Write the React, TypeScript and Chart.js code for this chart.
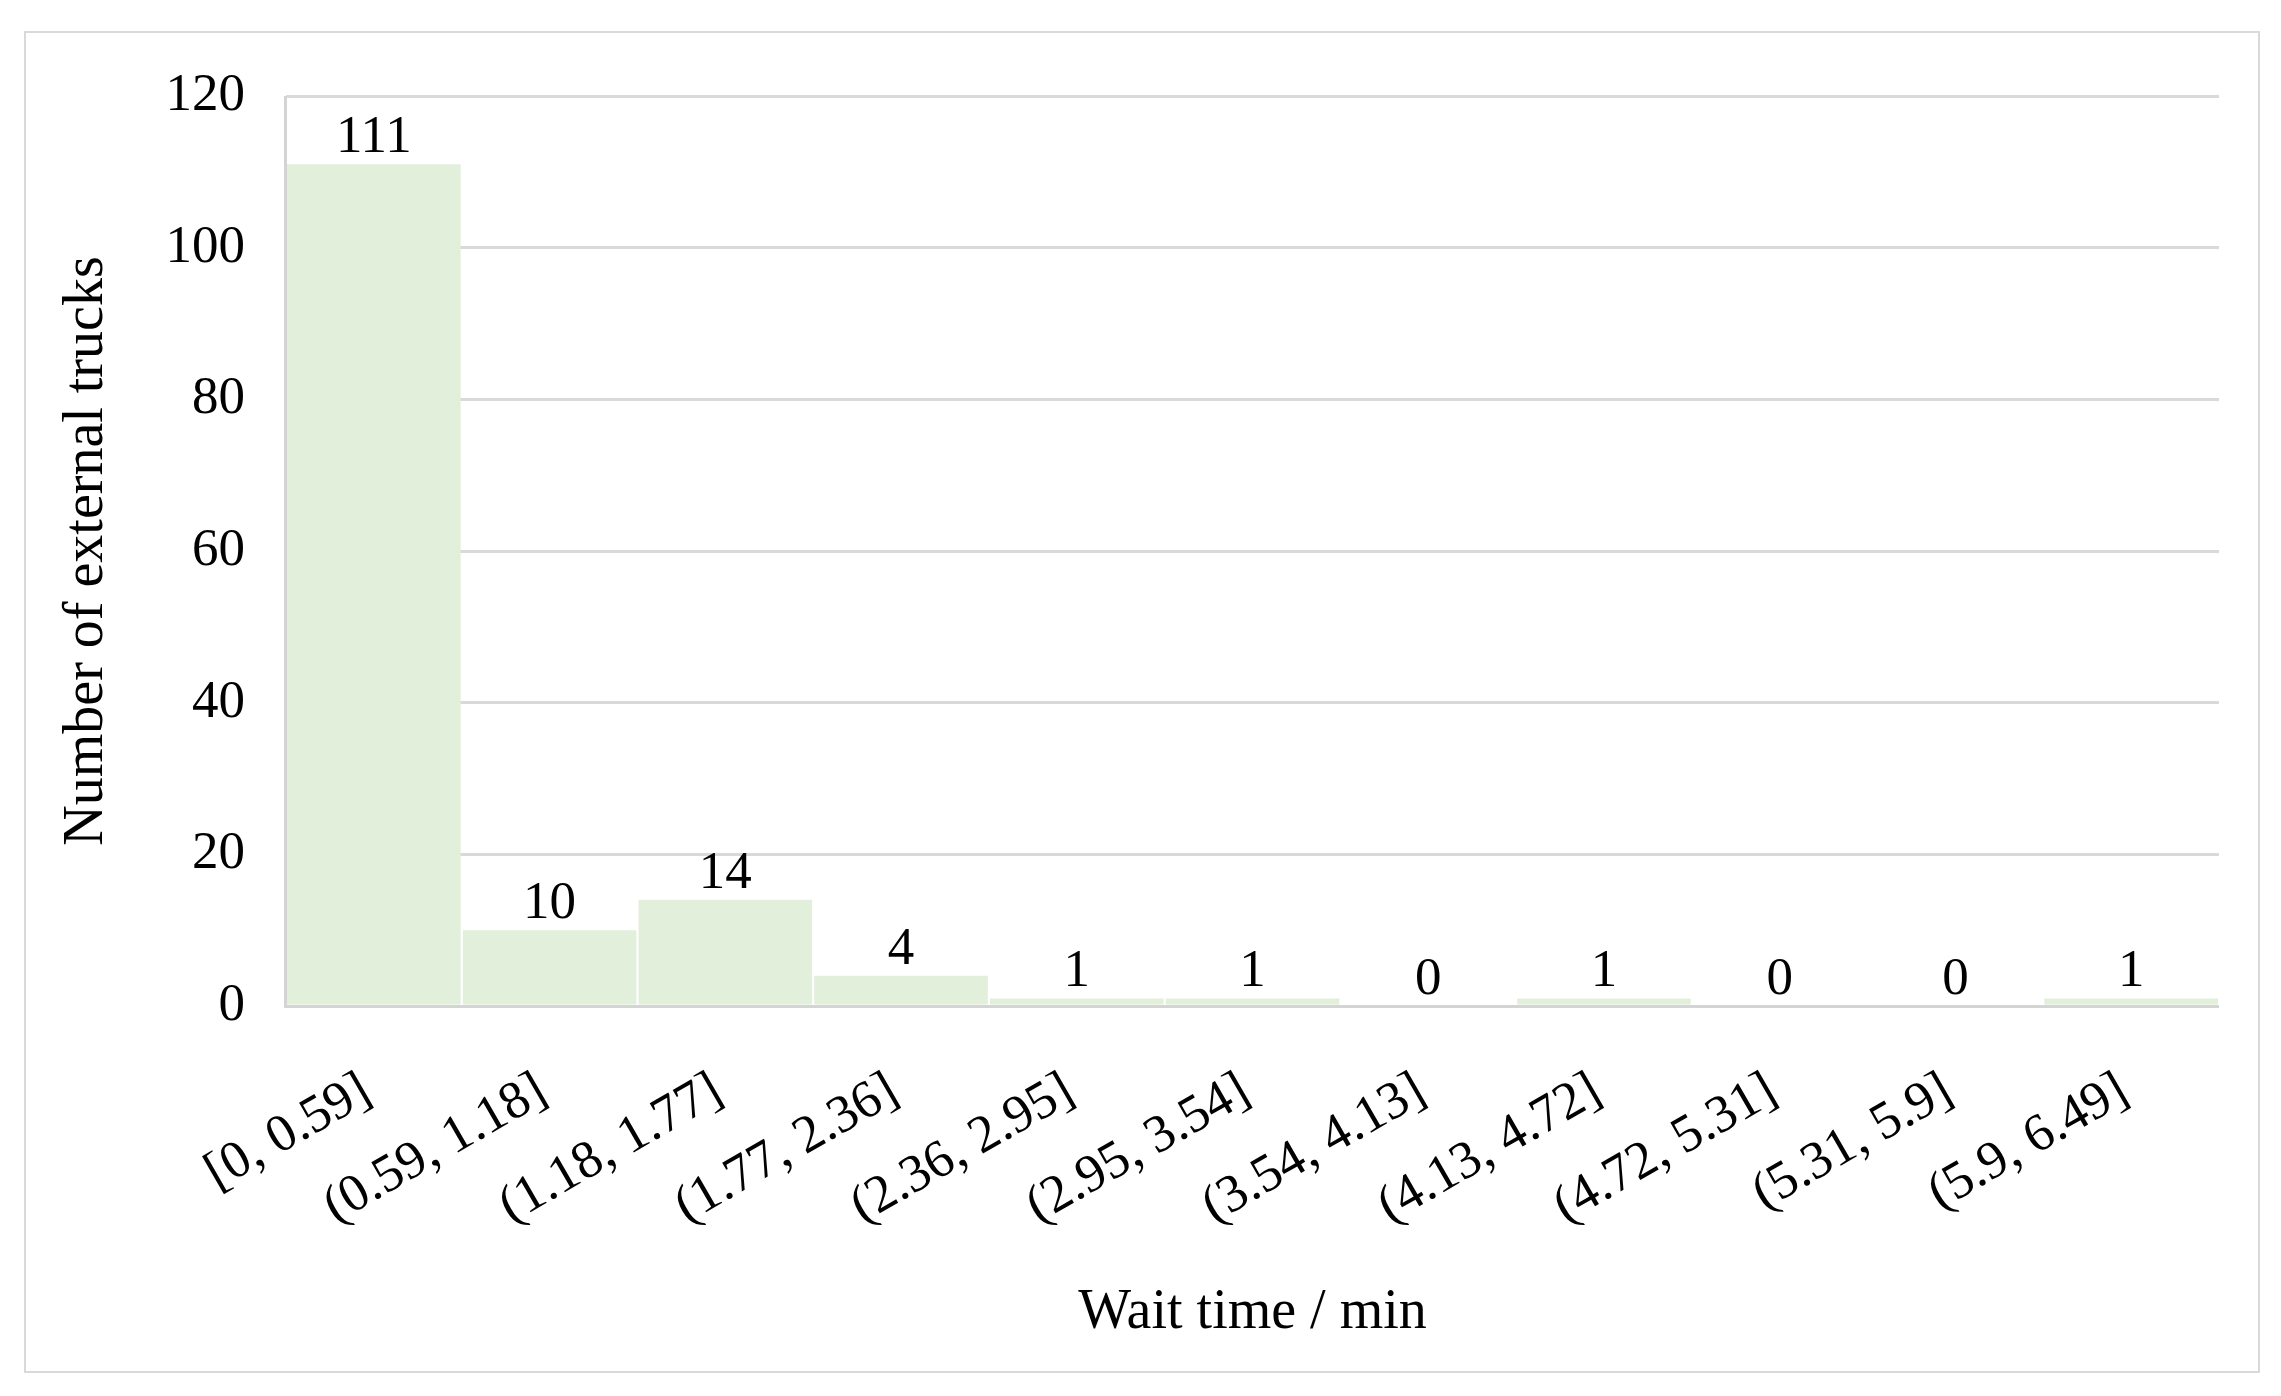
import React, { useEffect, useRef } from "react";
import { Chart, registerables } from "chart.js";

Chart.register(...registerables);

const categories = [
  "[0, 0.59]",
  "(0.59, 1.18]",
  "(1.18, 1.77]",
  "(1.77, 2.36]",
  "(2.36, 2.95]",
  "(2.95, 3.54]",
  "(3.54, 4.13]",
  "(4.13, 4.72]",
  "(4.72, 5.31]",
  "(5.31, 5.9]",
  "(5.9, 6.49]",
];
const counts = [111, 10, 14, 4, 1, 1, 0, 1, 0, 0, 1];
const yMin = 0;
const yMax = 120;
const yStep = 20;
const yTitle = "Number of external trucks";
const xTitle = "Wait time / min";

const FONT = "'Liberation Serif', 'Times New Roman', serif";
const W = 2281;
const H = 1396;

const framePlugin = {
  id: "frame",
  beforeDraw(chart: any) {
    const ctx = chart.ctx;
    ctx.save();
    ctx.fillStyle = "#ffffff";
    ctx.fillRect(0, 0, chart.width, chart.height);
    ctx.strokeStyle = "#d9d9d9";
    ctx.lineWidth = 2;
    ctx.strokeRect(25, 32, 2234, 1340);
    ctx.restore();
  },
};

const axisLinesPlugin = {
  id: "axisLines",
  afterDatasetsDraw(chart: any) {
    const { ctx, chartArea } = chart;
    ctx.save();
    ctx.strokeStyle = "#d4d4d4";
    ctx.lineWidth = 3;
    ctx.beginPath();
    ctx.moveTo(chartArea.left - 0.5, chartArea.top);
    ctx.lineTo(chartArea.left - 0.5, chartArea.bottom + 1);
    ctx.moveTo(chartArea.left - 2, chartArea.bottom + 0.5);
    ctx.lineTo(chartArea.right, chartArea.bottom + 0.5);
    ctx.stroke();
    ctx.restore();
  },
};

const valueLabelsPlugin = {
  id: "valueLabels",
  afterDatasetsDraw(chart: any) {
    const ctx = chart.ctx;
    const meta = chart.getDatasetMeta(0);
    const data = chart.data.datasets[0].data;
    ctx.save();
    ctx.font = `53px ${FONT}`;
    ctx.fillStyle = "#000000";
    ctx.textAlign = "center";
    ctx.textBaseline = "alphabetic";
    meta.data.forEach((el: any, i: number) => {
      ctx.fillText(String(data[i]), el.x, el.y - 12);
    });
    ctx.restore();
  },
};

export default function App() {
  const ref = useRef<HTMLCanvasElement | null>(null);

  useEffect(() => {
    if (!ref.current) return;
    const chart = new Chart(ref.current, {
      type: "bar",
      data: {
        labels: categories,
        datasets: [
          {
            data: counts,
            backgroundColor: "#e2efda",
            borderWidth: 0,
            barPercentage: 0.988,
            categoryPercentage: 1,
          },
        ],
      },
      options: {
        responsive: false,
        animation: false,
        devicePixelRatio: 1,
        layout: { padding: { left: 0, right: 62, top: 96, bottom: 0 } },
        plugins: {
          legend: { display: false },
          tooltip: { enabled: false },
          title: { display: false },
        },
        scales: {
          x: {
            type: "category",
            grid: { display: false },
            border: { display: false },
            ticks: {
              autoSkip: false,
              minRotation: 30,
              maxRotation: 30,
              padding: 46,
              labelOffset: -7,
              color: "#000000",
              font: { family: FONT, size: 53 },
            },
            title: {
              display: true,
              text: xTitle,
              color: "#000000",
              font: { family: FONT, size: 56 },
              padding: { top: 0, bottom: 49 },
            },
            afterFit: (scale: any) => {
              scale.height = 390;
            },
          },
          y: {
            min: yMin,
            max: yMax,
            grid: { color: "#d9d9d9", lineWidth: 3, drawTicks: false },
            border: { display: false },
            ticks: {
              stepSize: yStep,
              padding: 41,
              color: "#000000",
              font: { family: FONT, size: 53 },
            },
            title: {
              display: true,
              text: yTitle,
              color: "#000000",
              font: { family: FONT, size: 56 },
              padding: { top: 54, bottom: 0 },
            },
            afterFit: (scale: any) => {
              scale.width = 286;
            },
          },
        },
      },
      plugins: [framePlugin, axisLinesPlugin, valueLabelsPlugin],
    });
    return () => chart.destroy();
  }, []);

  return (
    <div style={{ position: "absolute", left: 0, top: 0, width: W, height: H, background: "#fff" }}>
      <canvas ref={ref} width={W} height={H} style={{ display: "block", width: W, height: H }} />
    </div>
  );
}
